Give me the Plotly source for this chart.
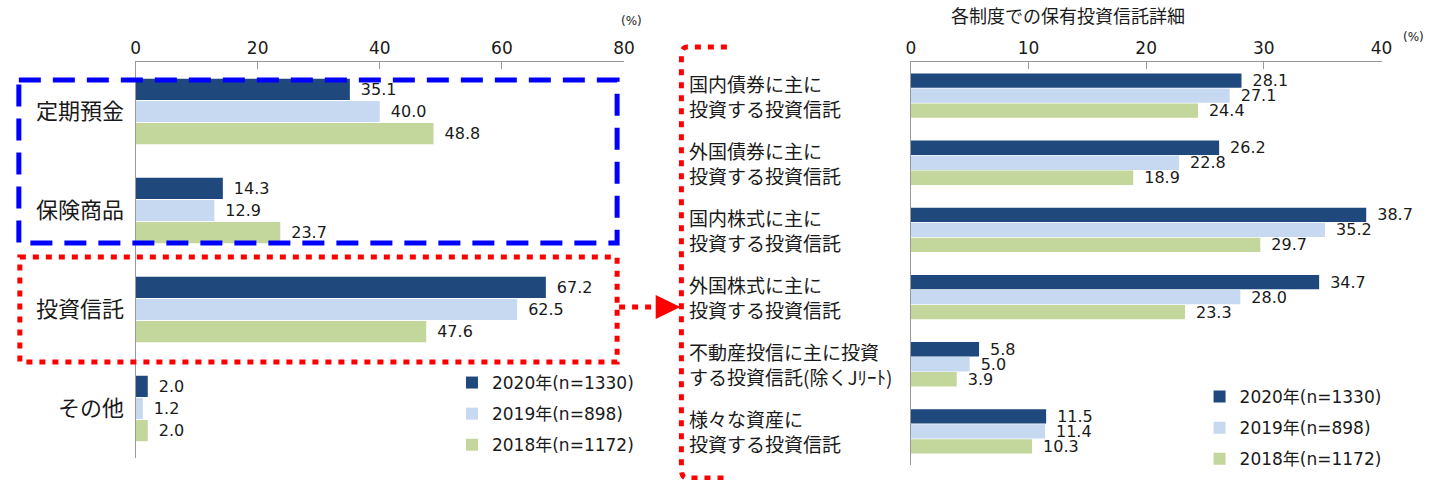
import plotly.graph_objects as go

W, H = 1438, 480

# ---- data ----
left_categories = ["定期預金", "保険商品", "投資信託", "その他"]
right_categories = [
    "国内債券に主に<br>投資する投資信託",
    "外国債券に主に<br>投資する投資信託",
    "国内株式に主に<br>投資する投資信託",
    "外国株式に主に<br>投資する投資信託",
    "不動産投信に主に投資<br>する投資信託(除くJﾘｰﾄ)",
    "様々な資産に<br>投資する投資信託",
]
series_names = ["2020年(n=1330)", "2019年(n=898)", "2018年(n=1172)"]
left_2020 = [35.1, 14.3, 67.2, 2.0]
left_2019 = [40.0, 12.9, 62.5, 1.2]
left_2018 = [48.8, 23.7, 47.6, 2.0]
right_2020 = [28.1, 26.2, 38.7, 34.7, 5.8, 11.5]
right_2019 = [27.1, 22.8, 35.2, 28.0, 5.0, 11.4]
right_2018 = [24.4, 18.9, 29.7, 23.3, 3.9, 10.3]
left_ticks = [0, 20, 40, 60, 80]
right_ticks = [0, 10, 20, 30, 40]
right_title = "各制度での保有投資信託詳細"

colors = ["#1F497D", "#C6D9F1", "#C3D69B"]
FONT = "DejaVu Sans, Noto Sans CJK JP"
CJK = "Noto Sans CJK JP"
TXT = "#1a1a1a"


def px(x):
    return x / W


def py(y):
    return 1 - y / H


fig = go.Figure()

left_vals = [left_2020, left_2019, left_2018]
right_vals = [right_2020, right_2019, right_2018]

for i, name in enumerate(series_names):
    fig.add_trace(go.Bar(
        y=left_categories, x=left_vals[i], orientation="h", name=name,
        marker=dict(color=colors[i], line=dict(width=0)),
        texttemplate="\u2002%{x:.1f}", textposition="outside",
        constraintext="none", cliponaxis=False,
        textfont=dict(size=16, color=TXT, family=FONT),
        xaxis="x", yaxis="y", legend="legend", legendgroup="L" + name,
    ))
for i, name in enumerate(series_names):
    fig.add_trace(go.Bar(
        y=right_categories, x=right_vals[i], orientation="h", name=name,
        marker=dict(color=colors[i], line=dict(width=0)),
        texttemplate="\u2002%{x:.1f}", textposition="outside",
        constraintext="none", cliponaxis=False,
        textfont=dict(size=16, color=TXT, family=FONT),
        xaxis="x2", yaxis="y2", legend="legend2", legendgroup="R" + name,
    ))

axis_common = dict(side="top", ticks="inside", ticklen=7, tickcolor="#999",
                   showline=True, linecolor="#999", linewidth=1, showgrid=False,
                   zeroline=False, tickfont=dict(size=17, color=TXT, family=FONT))

annotations = []
for cat in right_categories:
    annotations.append(dict(
        x=px(690), xref="paper", y=cat, yref="y2", text=cat, showarrow=False,
        xanchor="left", align="left", yanchor="middle",
        font=dict(size=19, color=TXT, family=CJK),
    ))
annotations += [
    dict(x=px(1075), y=py(0), xref="paper", yref="paper", text=right_title,
         xanchor="center", yanchor="top", showarrow=False,
         font=dict(size=18, color=TXT, family=CJK)),
    dict(x=px(634), y=py(21), xref="paper", yref="paper", text="(%)",
         xanchor="center", yanchor="middle", showarrow=False,
         font=dict(size=12, color=TXT, family=FONT)),
    dict(x=px(1424), y=py(37), xref="paper", yref="paper", text="(%)",
         xanchor="center", yanchor="middle", showarrow=False,
         font=dict(size=12, color=TXT, family=FONT)),
]


def rect(x0, y0, x1, y1, color, dash):
    return dict(type="rect", xref="paper", yref="paper",
                x0=px(x0), x1=px(x1), y0=py(y0), y1=py(y1),
                line=dict(color=color, width=5, dash=dash), fillcolor="rgba(0,0,0,0)")


bracket = "M {a},{b} L {c},{b} Q {d},{b} {d},{e} L {d},{f} Q {d},{g} {c},{g} L {a},{g}".format(
    a=px(730), b=py(47), c=px(690), d=px(684), e=py(56), f=py(469), g=py(478))

shapes = [
    rect(14, 80, 619, 243, "#0000FF", "22px,12px"),
    rect(15, 257, 619, 362, "#FF0000", "6px,7px"),
    dict(type="line", xref="paper", yref="paper", x0=px(621), x1=px(660),
         y0=py(307), y1=py(307), line=dict(color="#FF0000", width=5, dash="6px,7px")),
    dict(type="path", xref="paper", yref="paper",
         path="M {0},{1} L {2},{3} L {0},{4} Z".format(px(658), py(295), px(683), py(307), py(319)),
         fillcolor="#FF0000", line=dict(color="#FF0000", width=0)),
    dict(type="path", xref="paper", yref="paper", path=bracket,
         line=dict(color="#FF0000", width=5, dash="6px,7px")),
]

fig.update_layout(
    width=W, height=H, margin=dict(l=0, r=0, t=0, b=0),
    paper_bgcolor="white", plot_bgcolor="white",
    barmode="group", bargap=0.33, bargroupgap=0.04,
    font=dict(family=FONT, color=TXT),
    xaxis=dict(domain=[px(132), px(626)], range=[0, 80], tickvals=left_ticks,
               anchor="y", **axis_common),
    yaxis=dict(domain=[py(458), py(62)], autorange="reversed", type="category",
               showline=True, linecolor="#999", ticks="", showgrid=False,
               tickfont=dict(size=22, color=TXT, family=CJK), ticklabelstandoff=6,
               anchor="x"),
    xaxis2=dict(domain=[px(916), px(1392)], range=[0, 40], tickvals=right_ticks,
                anchor="y2", **axis_common),
    yaxis2=dict(domain=[py(465), py(62)], autorange="reversed", type="category",
                showline=True, linecolor="#999", ticks="", showgrid=False,
                showticklabels=False, anchor="x2"),
    legend=dict(x=px(452), y=py(365), xanchor="left", yanchor="top",
                font=dict(size=17, color=TXT, family=FONT),
                tracegroupgap=6, bgcolor="rgba(0,0,0,0)", itemwidth=30),
    legend2=dict(x=px(1208), y=py(379), xanchor="left", yanchor="top",
                 font=dict(size=17, color=TXT, family=FONT),
                 tracegroupgap=6, bgcolor="rgba(0,0,0,0)", itemwidth=30),
    annotations=annotations, shapes=shapes,
)

fig.write_html("out.html")
